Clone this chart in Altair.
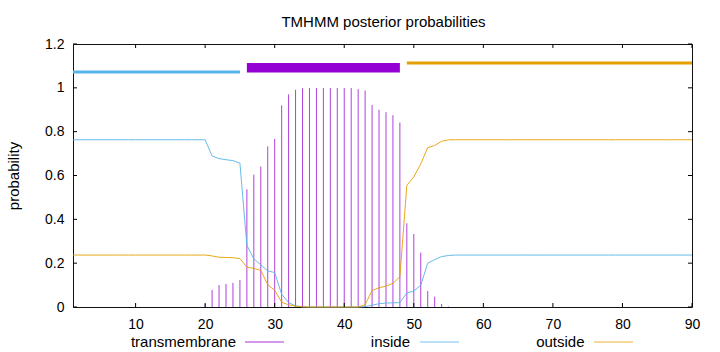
import altair as alt
import pandas as pd

FONT = "Liberation Sans"

# ---------------- data ----------------
positions = list(range(1, 91))

transmembrane = [
    0, 0, 0, 0, 0, 0, 0, 0, 0, 0,
    0, 0, 0, 0, 0, 0, 0, 0, 0, 0.014,
    0.078, 0.100, 0.105, 0.110, 0.123, 0.537, 0.604, 0.641, 0.733, 0.767,
    0.920, 0.970, 0.991, 0.998, 0.999, 0.999, 0.999, 0.999, 0.999, 0.999,
    0.999, 0.994, 0.988, 0.922, 0.900, 0.889, 0.875, 0.842, 0.382, 0.333,
    0.248, 0.073, 0.047, 0.014, 0.002, 0, 0, 0, 0, 0,
    0, 0, 0, 0, 0, 0, 0, 0, 0, 0,
    0, 0, 0, 0, 0, 0, 0, 0, 0, 0,
    0, 0, 0, 0, 0, 0, 0, 0, 0, 0,
]

inside = [
    0.763, 0.763, 0.763, 0.763, 0.763, 0.763, 0.763, 0.763, 0.763, 0.763,
    0.763, 0.763, 0.763, 0.763, 0.763, 0.763, 0.763, 0.763, 0.763, 0.763,
    0.689, 0.677, 0.672, 0.668, 0.657, 0.281, 0.220, 0.192, 0.165, 0.157,
    0.058, 0.020, 0.005, 0.001, 0.000, 0.000, 0.000, 0.000, 0.000, 0.000,
    0.000, 0.000, 0.002, 0.008, 0.015, 0.018, 0.019, 0.020, 0.064, 0.073,
    0.099, 0.200, 0.216, 0.230, 0.235, 0.237, 0.237, 0.237, 0.237, 0.237,
    0.237, 0.237, 0.237, 0.237, 0.237, 0.237, 0.237, 0.237, 0.237, 0.237,
    0.237, 0.237, 0.237, 0.237, 0.237, 0.237, 0.237, 0.237, 0.237, 0.237,
    0.237, 0.237, 0.237, 0.237, 0.237, 0.237, 0.237, 0.237, 0.237, 0.237,
]

outside = [
    0.237, 0.237, 0.237, 0.237, 0.237, 0.237, 0.237, 0.237, 0.237, 0.237,
    0.237, 0.237, 0.237, 0.237, 0.237, 0.237, 0.237, 0.237, 0.237, 0.237,
    0.233, 0.227, 0.226, 0.225, 0.221, 0.182, 0.176, 0.167, 0.102, 0.076,
    0.022, 0.010, 0.004, 0.001, 0.000, 0.000, 0.000, 0.000, 0.000, 0.000,
    0.000, 0.000, 0.010, 0.075, 0.088, 0.095, 0.108, 0.138, 0.555, 0.594,
    0.653, 0.727, 0.737, 0.756, 0.763, 0.763, 0.763, 0.763, 0.763, 0.763,
    0.763, 0.763, 0.763, 0.763, 0.763, 0.763, 0.763, 0.763, 0.763, 0.763,
    0.763, 0.763, 0.763, 0.763, 0.763, 0.763, 0.763, 0.763, 0.763, 0.763,
    0.763, 0.763, 0.763, 0.763, 0.763, 0.763, 0.763, 0.763, 0.763, 0.763,
]

# predicted topology (top bars)
topo_names = ["inside", "TMhelix", "outside"]
topo_start = [1, 26, 49]
topo_end = [25, 48, 90]
topo_lo = [1.072, 1.070, 1.113]
topo_hi = [1.072, 1.113, 1.113]

x_ticks = [10, 20, 30, 40, 50, 60, 70, 80, 90]
y_ticks = [0, 0.2, 0.4, 0.6, 0.8, 1.0, 1.2]

series_names = ["transmembrane", "inside", "outside"]
series_colors = ["#9400D3", "#56B4E9", "#E69F00"]
title_text = "TMHMM posterior probabilities"

# ---------------- tables ----------------
W, H = 619, 263

tm_df = pd.DataFrame({"pos": positions, "p": transmembrane})
tm_df = tm_df[tm_df["p"] > 0]

curves_df = pd.concat([
    pd.DataFrame({"pos": positions, "p": inside, "series": "inside"}),
    pd.DataFrame({"pos": positions, "p": outside, "series": "outside"}),
])

topo_df = pd.DataFrame({"name": topo_names, "start": topo_start, "end": topo_end,
                        "lo": topo_lo, "hi": topo_hi})
xt_df = pd.DataFrame({"v": x_ticks})
yt_df = pd.DataFrame({"v": y_ticks})

xscale = alt.Scale(domain=[1, 90], nice=False, zero=False)
yscale = alt.Scale(domain=[0, 1.2], nice=False, zero=False)

xaxis = alt.Axis(values=x_ticks, tickSize=0, domain=False, grid=False,
                 labelFontSize=14, labelFont=FONT, labelColor="black",
                 labelPadding=21, labelBaseline="alphabetic",
                 labelFlush=False, labelOverlap=False, title=None)
yaxis = alt.Axis(values=y_ticks, tickSize=0, domain=False, grid=False,
                 format="~g", labelFontSize=14, labelFont=FONT,
                 labelColor="black", labelPadding=9, labelFlush=False,
                 labelOverlap=False, title="probability", titleFont=FONT,
                 titleFontSize=15, titleFontWeight="normal",
                 titleColor="black", titleX=-55, titleBaseline="alphabetic")

color_scale = alt.Scale(domain=series_names, range=series_colors)

impulses = alt.Chart(tm_df).mark_rule(strokeWidth=1, opacity=0.75).encode(
    x=alt.X("pos:Q", scale=xscale, axis=xaxis),
    y=alt.Y("p:Q", scale=yscale, axis=yaxis),
    y2=alt.datum(0),
    color=alt.value(series_colors[0]),
)

curves = alt.Chart(curves_df).mark_line(strokeWidth=1, opacity=0.9).encode(
    x=alt.X("pos:Q", scale=xscale, axis=xaxis),
    y=alt.Y("p:Q", scale=yscale, axis=yaxis),
    color=alt.Color("series:N", scale=color_scale, legend=None),
)

topo_lines = alt.Chart(topo_df).transform_filter(
    alt.datum.name != "TMhelix"
).mark_rule(strokeWidth=3).encode(
    x=alt.X("start:Q", scale=xscale, axis=xaxis),
    x2="end:Q",
    y=alt.Y("lo:Q", scale=yscale, axis=yaxis),
    color=alt.Color("name:N", scale=alt.Scale(domain=["inside", "outside"],
                                               range=series_colors[1:]),
                    legend=None),
)

topo_box = alt.Chart(topo_df).transform_filter(
    alt.datum.name == "TMhelix"
).mark_rect(color=series_colors[0]).encode(
    x=alt.X("start:Q", scale=xscale, axis=xaxis),
    x2="end:Q",
    y=alt.Y("lo:Q", scale=yscale, axis=yaxis),
    y2="hi:Q",
)

TL = 4
tick_style = dict(color="black", strokeWidth=1)
xt_bottom = alt.Chart(xt_df).mark_rule(**tick_style).encode(
    x=alt.X("v:Q", scale=xscale, axis=xaxis),
    y=alt.value(H), y2=alt.value(H - TL))
xt_top = alt.Chart(xt_df).mark_rule(**tick_style).encode(
    x=alt.X("v:Q", scale=xscale, axis=xaxis),
    y=alt.value(0), y2=alt.value(TL))
yt_left = alt.Chart(yt_df).mark_rule(**tick_style).encode(
    y=alt.Y("v:Q", scale=yscale, axis=yaxis),
    x=alt.value(0), x2=alt.value(TL))
yt_right = alt.Chart(yt_df).mark_rule(**tick_style).encode(
    y=alt.Y("v:Q", scale=yscale, axis=yaxis),
    x=alt.value(W), x2=alt.value(W - TL))

# title as a text mark above the plot
title_layer = alt.Chart(pd.DataFrame({"t": [title_text]})).mark_text(
    align="center", baseline="alphabetic", fontSize=15, font=FONT,
    color="black").encode(x=alt.value(W / 2 + 1), y=alt.value(-17), text="t:N")

# legend (gnuplot style: text then sample line)
leg_text_x = [163, 337, 511.5]
leg_line_x = [172, 347, 521]
leg_line_len = 39
legend_layers = []
for name, col, tx, lx in zip(series_names, series_colors, leg_text_x, leg_line_x):
    d = pd.DataFrame({"t": [name]})
    legend_layers.append(
        alt.Chart(d).mark_text(align="right", baseline="alphabetic",
                               fontSize=15, font=FONT, color="black").encode(
            x=alt.value(tx), y=alt.value(302.5), text="t:N"))
    legend_layers.append(
        alt.Chart(d).mark_rule(color=col, strokeWidth=1, opacity=0.8).encode(
            x=alt.value(lx), x2=alt.value(lx + leg_line_len), y=alt.value(298)))

chart = alt.layer(
    impulses, curves, topo_lines, topo_box,
    xt_bottom, xt_top, yt_left, yt_right, title_layer, *legend_layers
).resolve_scale(color="independent").properties(
    width=W, height=H,
    autosize=alt.AutoSizeParams(type="none"),
    padding={"left": 73, "top": 44, "right": 28, "bottom": 45},
    background="white",
).configure_view(stroke="#111", strokeWidth=1)

chart.save("out.html", embed_options={"renderer": "svg", "actions": False})
